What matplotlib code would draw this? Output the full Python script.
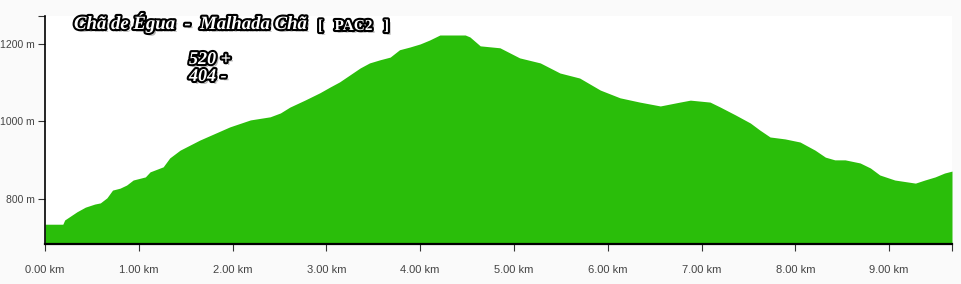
import numpy as np
import matplotlib
matplotlib.use('Agg')
import matplotlib.pyplot as plt
import matplotlib.patheffects as pe

# distance (km) / elevation (m)
dist = [0.00, 0.19, 0.21, 0.34, 0.43, 0.53, 0.59, 0.66, 0.72, 0.80, 0.87, 0.94,
        1.07, 1.12, 1.26, 1.33, 1.44, 1.65, 1.97, 2.19, 2.40, 2.51, 2.61, 2.77,
        2.93, 3.04, 3.14, 3.25, 3.36, 3.46, 3.57, 3.68, 3.78, 3.89, 4.00, 4.10,
        4.21, 4.48, 4.53, 4.64, 4.85, 5.06, 5.28, 5.49, 5.70, 5.92, 6.13, 6.34,
        6.56, 6.77, 6.88, 7.09, 7.20, 7.36, 7.52, 7.62, 7.73, 7.89, 8.05, 8.21,
        8.32, 8.42, 8.53, 8.69, 8.80, 8.90, 9.06, 9.28, 9.38, 9.49, 9.59, 9.67]
elev = [735, 735, 746, 767, 779, 787, 790, 803, 823, 828, 836, 849,
        857, 870, 883, 906, 926, 952, 986, 1004, 1012, 1022, 1037, 1055,
        1074, 1089, 1102, 1120, 1138, 1151, 1159, 1166, 1185, 1192, 1200, 1210,
        1223, 1223, 1218, 1195, 1190, 1164, 1151, 1125, 1112, 1081, 1061, 1050,
        1040, 1050, 1055, 1050, 1037, 1017, 996, 978, 960, 955, 947, 926,
        908, 901, 901, 893, 880, 862, 849, 841, 849, 857, 867, 872]

xticks = [0, 1, 2, 3, 4, 5, 6, 7, 8, 9]
yticks = [800, 1000, 1200]
title = "Chã de Égua  -  Malhada Chã"
code = "[   PAC2   ]"
gain = "520 +"
loss = "404 -"

W, H = 961, 284
fig = plt.figure(figsize=(W/100, H/100), dpi=100, facecolor='#fafafa')
ax = fig.add_axes([45/W, 1-244/H, (952-45)/W, (244-16)/H])
ax.set_facecolor('white')

ax.fill_between(dist, elev, 600, color='#2abe0a', lw=0)
ax.set_xlim(0, 9.67)
ax.set_ylim(684, 1272)

for s in ['top', 'right']:
    ax.spines[s].set_visible(False)
ax.spines['left'].set_linewidth(1.2)
ax.spines['bottom'].set_linewidth(1.6)

ax.set_xticks(xticks)
ax.set_xticklabels(["%.2f km" % v for v in xticks])
ax.set_yticks(yticks)
ax.set_yticklabels(["%d m" % v for v in yticks])
ax.set_xticks([9.67], minor=True)
ax.set_yticks([1272], minor=True)
ax.tick_params(which='both', direction='out', length=5, width=0.8, color='#333333',
               labelcolor='#444444')
ax.tick_params(axis='x', labelsize=8, pad=10)
ax.tick_params(axis='y', labelsize=7.5, pad=2.5)
for lab in ax.get_xticklabels() + ax.get_yticklabels():
    lab.set_fontfamily('Liberation Sans')

fx = lambda px: px/W
fy = lambda py: 1-py/H
shadow = [pe.SimplePatchShadow(offset=(2, -2), shadow_rgbFace='#888888', alpha=0.6),
          pe.withStroke(linewidth=3, foreground='black')]

fig.text(fx(74), fy(29), title, fontsize=13.5, family='Liberation Serif',
         weight='bold', style='italic', color='white', path_effects=shadow)
fig.text(fx(318), fy(30), code, fontsize=11, family='Liberation Serif',
         weight='bold', color='white', path_effects=shadow)
fig.text(fx(189), fy(64), gain, fontsize=13, family='Liberation Serif',
         weight='bold', style='italic', color='white', path_effects=shadow)
fig.text(fx(189), fy(81), loss, fontsize=13, family='Liberation Serif',
         weight='bold', style='italic', color='white', path_effects=shadow)

fig.savefig('out.png', dpi=100, facecolor=fig.get_facecolor())
